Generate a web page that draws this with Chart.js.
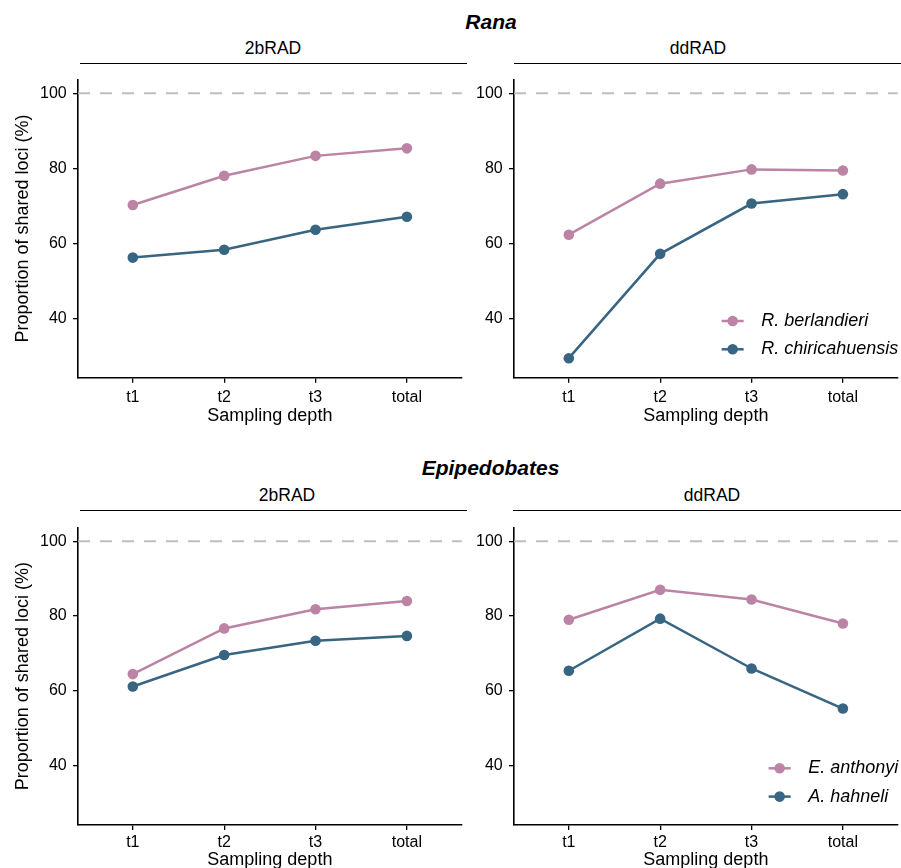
<!DOCTYPE html>
<html><head><meta charset="utf-8">
<script src="https://cdn.jsdelivr.net/npm/chart.js@4.4.1/dist/chart.umd.min.js"></script>
<style>
body{margin:0;background:#fff;width:901px;height:868px;overflow:hidden;position:relative;font-family:"Liberation Sans",Arial,sans-serif;color:#000;}
canvas{position:absolute;}
.title{position:absolute;font-weight:bold;font-style:italic;font-size:21px;line-height:1;transform:translate(-50%,-50%);white-space:nowrap;}
.strip{position:absolute;font-size:17.5px;line-height:1;transform:translate(-50%,-50%);white-space:nowrap;}
.sline{position:absolute;height:1.6px;background:#000;}
</style></head><body>
<div class="title" style="left:491px;top:21px">Rana</div>
<div class="strip" style="left:273px;top:49px">2bRAD</div>
<div class="strip" style="left:698px;top:49px">ddRAD</div>
<div class="sline" style="left:80px;width:387px;top:62.5px"></div>
<div class="sline" style="left:514px;width:387px;top:62.5px"></div>
<div class="title" style="left:490.5px;top:467px">Epipedobates</div>
<div class="strip" style="left:287px;top:495.5px">2bRAD</div>
<div class="strip" style="left:712px;top:495.5px">ddRAD</div>
<div class="sline" style="left:80px;width:387px;top:509.5px"></div>
<div class="sline" style="left:513px;width:388px;top:509.5px"></div>

<canvas id="c1" width="467" height="356" style="left:0;top:74px"></canvas>
<canvas id="c2" width="441" height="356" style="left:462px;top:74px"></canvas>
<canvas id="c3" width="467" height="361" style="left:0;top:522px"></canvas>
<canvas id="c4" width="441" height="361" style="left:462px;top:522px"></canvas>
<script>
const categories = ['t1', 't2', 't3', 'total'];
const yTicks = [40, 60, 80, 100];
const referenceLine = 100;
const ranaSpecies = ['R. berlandieri', 'R. chiricahuensis'];
const epiSpecies = ['E. anthonyi', 'A. hahneli'];
const rana2bBerlandieri = [70.2, 78.0, 83.3, 85.3];
const rana2bChiricahuensis = [56.2, 58.3, 63.6, 67.1];
const ranaDdBerlandieri = [62.3, 75.9, 79.7, 79.4];
const ranaDdChiricahuensis = [29.4, 57.2, 70.6, 73.1];
const epi2bAnthonyi = [64.5, 76.7, 81.8, 84.0];
const epi2bHahneli = [61.2, 69.6, 73.4, 74.7];
const epiDdAnthonyi = [79.0, 87.0, 84.4, 78.0];
const epiDdHahneli = [65.4, 79.3, 66.0, 55.3];
const colors = ['#BC84A4', '#376582'];

const FONT = '"Liberation Sans", Arial, sans-serif';

const refLinePlugin = {
  id: 'refLine',
  beforeDatasetsDraw(chart) {
    const {ctx, chartArea, scales} = chart;
    const y = scales.y.getPixelForValue(referenceLine);
    ctx.save();
    ctx.strokeStyle = '#BEBEBE';
    ctx.lineWidth = 2;
    ctx.setLineDash([12, 10]);
    ctx.beginPath();
    ctx.moveTo(chartArea.left, y);
    ctx.lineTo(chartArea.right, y);
    ctx.stroke();
    ctx.restore();
  }
};

const insideLegendPlugin = {
  id: 'insideLegend',
  afterDatasetsDraw(chart, args, opts) {
    if (!opts || !opts.labels) return;
    const {ctx, chartArea} = chart;
    const labels = opts.labels;
    ctx.save();
    ctx.font = 'italic 18px ' + FONT;
    const maxW = Math.max(...labels.map(l => ctx.measureText(l).width));
    const textX = chartArea.right - maxW + 0.5;
    const mx = textX - 28.5;
    const n = labels.length;
    labels.forEach((lab, i) => {
      const y = chartArea.bottom - 28.4 - (n - 1 - i) * 28.3;
      ctx.strokeStyle = colors[i];
      ctx.lineWidth = 2.5;
      ctx.beginPath();
      ctx.moveTo(mx - 11, y);
      ctx.lineTo(mx + 11, y);
      ctx.stroke();
      ctx.fillStyle = colors[i];
      ctx.beginPath();
      ctx.arc(mx, y, 5.3, 0, Math.PI * 2);
      ctx.fill();
      ctx.fillStyle = '#000';
      ctx.textBaseline = 'middle';
      ctx.textAlign = 'left';
      ctx.fillText(lab, textX, y);
    });
    ctx.restore();
  }
};

function makePanel(id, opt) {
  const ds = opt.series.map((vals, i) => ({
    label: opt.names[i],
    data: vals.map((v, k) => ({x: k + 1, y: v})),
    borderColor: colors[i],
    backgroundColor: colors[i],
    borderWidth: 2.5,
    pointRadius: 5.3,
    pointBorderWidth: 0,
    pointHoverRadius: 5.3,
    tension: 0,
    order: i === 0 ? 1 : 0
  }));
  const tickFont = {family: FONT, size: 16};
  const gridOpts = {display: true, drawOnChartArea: false, drawTicks: true, tickLength: 5, color: '#000', lineWidth: 1.3};
  const borderOpts = {display: true, color: '#000', width: 1.6};
  new Chart(document.getElementById(id), {
    type: 'line',
    data: {datasets: ds},
    options: {
      responsive: false,
      animation: false,
      events: [],
      layout: {padding: {top: 0, left: 0, right: 0, bottom: 0}},
      plugins: {
        legend: {display: false},
        tooltip: {enabled: false},
        insideLegend: opt.legend ? {labels: opt.names} : false
      },
      scales: {
        x: {
          type: 'linear', min: 0.4, max: 4.6,
          afterBuildTicks: s => { s.ticks = categories.map((c, i) => ({value: i + 1})); },
          ticks: {callback: v => categories[Math.round(v) - 1], font: tickFont, color: '#000', padding: opt.xTickPad, autoSkip: false, maxRotation: 0},
          grid: gridOpts,
          border: borderOpts,
          title: {display: true, text: 'Sampling depth', color: '#000', font: {family: FONT, size: 18}, padding: {top: 0, bottom: opt.xTitlePad}},
          afterFit: s => { s.height = opt.xHeight; s.paddingLeft = 0; s.paddingRight = 0; }
        },
        y: {
          min: 24.2, max: 103.7,
          afterBuildTicks: s => { s.ticks = yTicks.map(v => ({value: v})); },
          ticks: {font: tickFont, color: '#000', padding: 6.3},
          grid: gridOpts,
          border: borderOpts,
          title: {display: opt.yTitle, text: 'Proportion of shared loci (%)', color: '#000', font: {family: FONT, size: 18}, padding: {top: 12, bottom: 0}},
          afterFit: s => { s.width = opt.yWidth; s.paddingTop = 0; s.paddingBottom = 0; }
        }
      }
    },
    plugins: [refLinePlugin, insideLegendPlugin]
  });
}

makePanel('c1', {series: [rana2bBerlandieri, rana2bChiricahuensis], names: ranaSpecies, legend: false, yTitle: true, yWidth: 78, xHeight: 52.3, xTickPad: 5.7, xTitlePad: 3.0});
makePanel('c2', {series: [ranaDdBerlandieri, ranaDdChiricahuensis], names: ranaSpecies, legend: true, yTitle: false, yWidth: 52, xHeight: 52.3, xTickPad: 5.7, xTitlePad: 3.0});
makePanel('c3', {series: [epi2bAnthonyi, epi2bHahneli], names: epiSpecies, legend: false, yTitle: true, yWidth: 78, xHeight: 58, xTickPad: 2.9, xTitlePad: 12});
makePanel('c4', {series: [epiDdAnthonyi, epiDdHahneli], names: epiSpecies, legend: true, yTitle: false, yWidth: 52, xHeight: 58, xTickPad: 2.9, xTitlePad: 12});
</script>
</body></html>
